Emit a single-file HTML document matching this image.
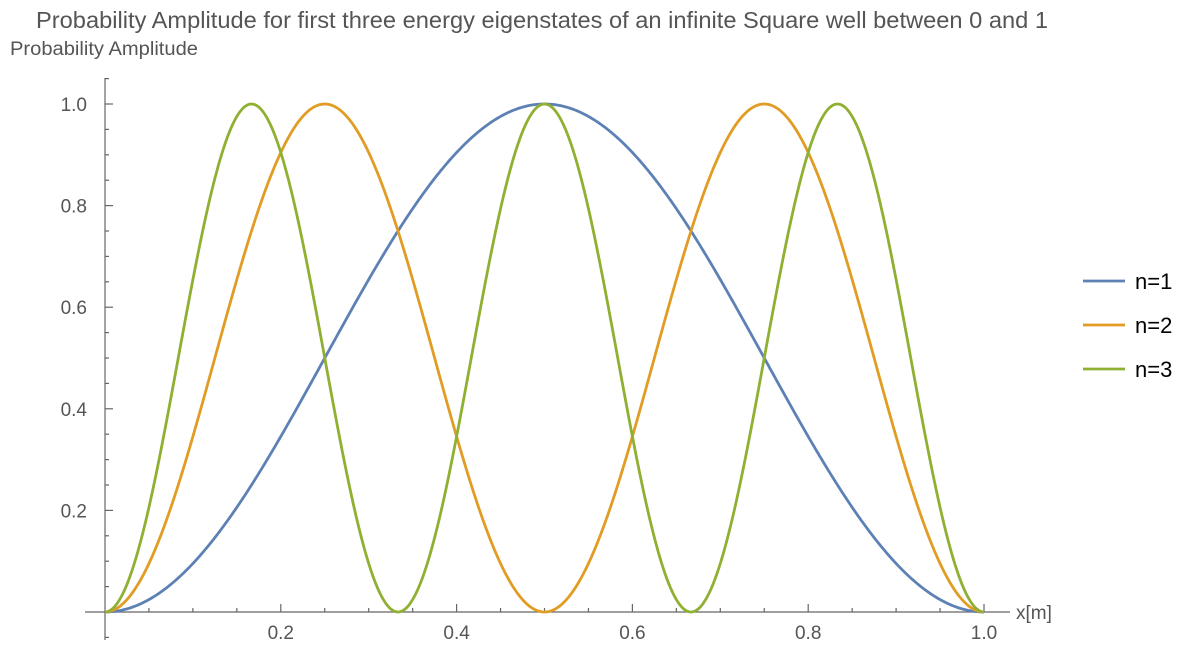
<!DOCTYPE html>
<html><head><style>
body{margin:0;background:#fff;}
text{font-family:"Liberation Sans",sans-serif;fill:#555;}
</style></head><body>
<svg id="s" width="1188" height="658" xmlns="http://www.w3.org/2000/svg">
<text x="36" y="28" font-size="23" textLength="1012" lengthAdjust="spacingAndGlyphs">Probability Amplitude for first three energy eigenstates of an infinite Square well between 0 and 1</text>
<text x="10" y="55" font-size="19" textLength="188" lengthAdjust="spacingAndGlyphs">Probability Amplitude</text>
<g id="ax" stroke="#666" stroke-width="1.2"></g>
<g id="lab" font-size="19"></g>
<g id="cur" fill="none" stroke-width="2.8"></g>
<text x="1016" y="619" font-size="19">x[m]</text>
<g font-size="22">
<line x1="1083" y1="281" x2="1125" y2="281" stroke="#5E81B5" stroke-width="2.8"/><text x="1135" y="289" style="fill:#000">n=1</text>
<line x1="1083" y1="325" x2="1125" y2="325" stroke="#E19C24" stroke-width="2.8"/><text x="1135" y="333" style="fill:#000">n=2</text>
<line x1="1083" y1="369" x2="1125" y2="369" stroke="#8FB032" stroke-width="2.8"/><text x="1135" y="377" style="fill:#000">n=3</text>
</g>
</svg>
<script>
var X0=105,X1=984,Y0=612,Y1=104;
function px(x){return X0+(X1-X0)*x}function py(y){return Y0-(Y0-Y1)*y}
var ax='',lab='';
ax+='<line x1="85" y1="612" x2="1010" y2="612"/>';
ax+='<line x1="105" y1="78" x2="105" y2="640"/>';
for(var i=1;i<=20;i++){var x=px(i/20),maj=i%4==0;ax+='<line x1="'+x+'" y1="612" x2="'+x+'" y2="'+(612-(maj?8:4))+'"/>';
 if(maj)lab+='<text x="'+x+'" y="639" text-anchor="middle">'+(i/20).toFixed(1)+'</text>';}
for(var i=-1;i<=21;i++){if(i==0)continue;var y=py(i/20),maj=i%4==0&&i>0;ax+='<line x1="105" y1="'+y+'" x2="'+(105+(maj?8:4))+'" y2="'+y+'"/>';
 if(maj)lab+='<text x="87" y="'+(y+7)+'" text-anchor="end">'+(i/20).toFixed(1)+'</text>';}
document.getElementById('ax').innerHTML=ax;document.getElementById('lab').innerHTML=lab;
var cols=['#5E81B5','#E19C24','#8FB032'],c='';
for(var n=1;n<=3;n++){var d='';for(var k=0;k<=600;k++){var x=k/600,y=Math.pow(Math.sin(n*Math.PI*x),2);d+=(k?'L':'M')+px(x).toFixed(2)+' '+py(y).toFixed(2);}
c+='<path d="'+d+'" stroke="'+cols[n-1]+'"/>';}
document.getElementById('cur').innerHTML=c;
</script>
</body></html>
